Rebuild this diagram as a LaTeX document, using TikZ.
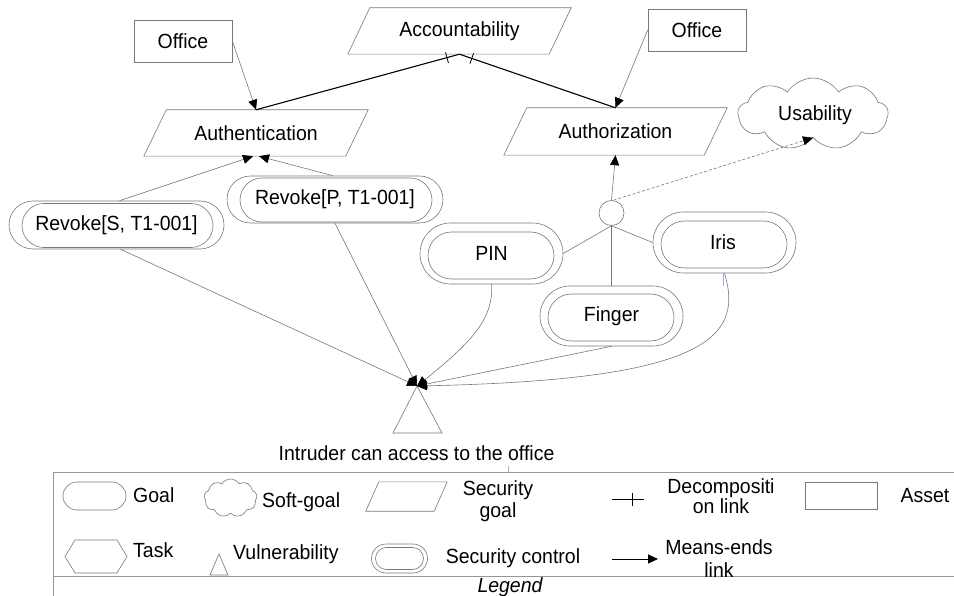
\documentclass[tikz,border=0pt]{standalone}
\usepackage{fontspec}
\setmainfont{Liberation Sans}[FakeStretch=0.95]
\usetikzlibrary{arrows.meta,shapes.misc,shapes.symbols,shapes.geometric,decorations.markings}

\definecolor{linegray}{RGB}{120,120,120}
\definecolor{framegray}{RGB}{150,150,150}
\definecolor{tickblue}{RGB}{150,180,220}

\begin{document}
\begin{tikzpicture}[x=1pt,y=-1pt,
  font=\fontsize{20.5}{22}\selectfont,
  outl/.style={draw=linegray, line width=0.6pt},
  link/.style={draw=linegray, line width=0.6pt},
  tip/.style={-{Triangle[length=10pt,width=9pt,black]}},
  means/.style={link, tip},
  decomp/.style={draw=black, line width=1.1pt},
  cut/.style={postaction={decorate, decoration={markings,
      mark=at position 13pt with {\draw[black, line width=0.8pt] (0,-5.5pt) -- (0,5.5pt);}}}},
  asset/.style={rectangle, outl, inner sep=0pt, minimum width=98pt, minimum height=42pt},
  ctrl/.style={rounded rectangle, outl, inner sep=0pt},
  softgoal/.style={cloud, cloud puffs=9, cloud puff arc=115, cloud ignores aspect, outl, inner sep=0pt},
  sgoal/.style n args={3}{rectangle, inner sep=0pt, minimum width=#1, minimum height=#2,
    append after command={\pgfextra{\draw[outl]
      ([xshift=#3]\tikzlastnode.north west) -- (\tikzlastnode.north east) --
      ([xshift=-#3]\tikzlastnode.south east) -- (\tikzlastnode.south west) -- cycle;}}},
  lbl/.style={inner sep=0pt, text=black},
  lgd/.style={inner sep=0pt, text=black, anchor=base}]

\fill[white] (0,0) rectangle (954,596);
\useasboundingbox (0,0) rectangle (954,596);

% assets
\node[asset] (ofl) at (183,41) {Office};
\node[asset] (ofr) at (697,30) {Office};

% security goals
\node[sgoal={223pt}{46pt}{22pt}] (acc) at (459.5,31) {Accountability};
\node[sgoal={224pt}{46pt}{22.5pt}] (authn) at (256,133) {Authentication};
\node[sgoal={223pt}{47pt}{23pt}] (authz) at (615.5,131.5) {Authorization};

% soft-goal
\node[softgoal, minimum width=150pt, minimum height=72pt] (usab) at (813,114) {};
\node[lbl] (usabt) at (815,115) {Usability};

% security controls (outer and inner outline)
\node[ctrl, minimum width=215pt, minimum height=48pt] (rs) at (116.5,225) {Revoke[S, T1-001]};
\node[ctrl, minimum width=191pt, minimum height=44pt] (rsin) at (117.5,225.5) {};
\node[ctrl, minimum width=216pt, minimum height=47pt] (rp) at (335,199.5) {Revoke[P, T1-001]};
\node[ctrl, minimum width=192pt, minimum height=44pt] (rpin) at (336,200) {};
\node[ctrl, minimum width=143pt, minimum height=61pt] (pin) at (491.5,253.5) {PIN};
\node[ctrl, minimum width=126pt, minimum height=47pt] (pinin) at (491,255.5) {};
\node[ctrl, minimum width=143pt, minimum height=60pt] (fin) at (611.5,316) {Finger};
\node[ctrl, minimum width=126pt, minimum height=47pt] (finin) at (611,317.5) {};
\node[ctrl, minimum width=143pt, minimum height=61pt] (iris) at (724.5,242.5) {};
\node[ctrl, minimum width=126pt, minimum height=47pt] (irisin) at (724,244.5) {};
\node[lbl] (irist) at (723,242) {Iris};

% OR point
\node[circle, outl, minimum size=25pt, inner sep=0pt] (dec) at (611.5,213) {};

% vulnerability
\draw[outl] (417,386) -- (442,433) -- (393,433) -- cycle;
\coordinate (vul) at (417,386);
\node[lbl] (vult) at (416.5,453) {Intruder can access to the office};

% asset links
\draw[means] (ofl.east) -- (authn.north);
\draw[means] (ofr.west) -- (authz.north);

% decomposition of accountability
\draw[decomp, cut] (acc.south) -- (authn.north);
\draw[decomp, cut] (acc.south) -- (authz.north);

% controls towards the goals
\draw[means] ([xshift=3pt]rs.north) -- ([xshift=-3pt]authn.south);
\draw[means] ([xshift=-2pt]rp.north) -- ([xshift=3pt]authn.south);
\draw[means] (dec.north) -- (authz.south);
\draw[means, dash pattern=on 3pt off 2pt] ([xshift=2pt]dec.north) -- (usab.south);
\draw[link] (dec.south) -- (pin.east);
\draw[link] (dec.south) -- (fin.north);
\draw[link] (dec.south) -- (iris.west);

% controls towards the vulnerability
\draw[means] ([xshift=4pt]rs.south) -- (vul);
\draw[means] (rp.south) -- (vul);
\draw[means] (pin.south) .. controls (494,318) and (472,342) .. (vul);
\draw[means] (fin.south) -- (vul);
\draw[means] (iris.south) .. controls (745,340) and (700,380) .. (vul);

% small blue marks
\draw[tickblue, line width=0.8pt] (723,273) -- (723,286);
\draw[tickblue, line width=0.5pt] (508,466) -- (508,472);

% legend frame
\draw[framegray, line width=0.8pt] (53,596) -- (53,472) -- (954,472);
\draw[framegray, line width=0.8pt] (53,576) -- (954,576);

% legend, first row
\node[ctrl, minimum width=63pt, minimum height=28pt] (lgoal) at (94.5,496) {};
\node[lgd, anchor=base west] (lgoalt) at (133,502) {Goal};
\node[softgoal, minimum width=53pt, minimum height=38pt] (lsoft) at (230.5,498) {};
\node[lgd, anchor=base west] (lsoftt) at (262,507) {Soft-goal};
\node[sgoal={81pt}{29pt}{13pt}] (lsg) at (406.5,496.5) {};
\node[lgd] (lsgt) at (498,495) {Security};
\node[lgd] (lsgt2) at (498,517) {goal};
\coordinate (ldeca) at (612,499);
\coordinate (ldecb) at (644,499);
\draw[black, line width=0.8pt] (ldeca) -- (ldecb);
\draw[black, line width=0.8pt] (632,493) -- (632,506);
\node[lgd] (ldect) at (721,493) {Decompositi};
\node[lgd] (ldect2) at (721,513) {on link};
\node[asset, minimum width=72pt, minimum height=27pt] (lasset) at (841,495.5) {};
\node[lgd] (lassett) at (925,502) {Asset};

% legend, second row
\draw[outl] (65,556.5) -- (75,540) -- (117,540) -- (127,556.5) -- (117,573) -- (75,573) -- cycle;
\node[lgd, anchor=base west] (ltaskt) at (133,557) {Task};
\draw[outl] (219,554) -- (228,575) -- (210,575) -- cycle;
\node[lgd, anchor=base west] (lvult) at (233,559) {Vulnerability};
\node[ctrl, minimum width=56pt, minimum height=29pt] (lctrl) at (399.5,558.5) {};
\node[ctrl, minimum width=48pt, minimum height=22pt] (lctrlin) at (399.5,558.5) {};
\node[lgd] (lctrlt) at (513,563) {Security control};
\coordinate (lmea) at (612,559);
\coordinate (lmeb) at (658,559);
\draw[black, line width=0.9pt, tip] (lmea) -- (lmeb);
\node[lgd] (lmet) at (719,554) {Means-ends};
\node[lgd] (lmet2) at (719,577) {link};
\node[lgd, font=\fontsize{20.5}{22}\selectfont\itshape] (legt) at (510,592) {Legend};

\end{tikzpicture}
\end{document}
